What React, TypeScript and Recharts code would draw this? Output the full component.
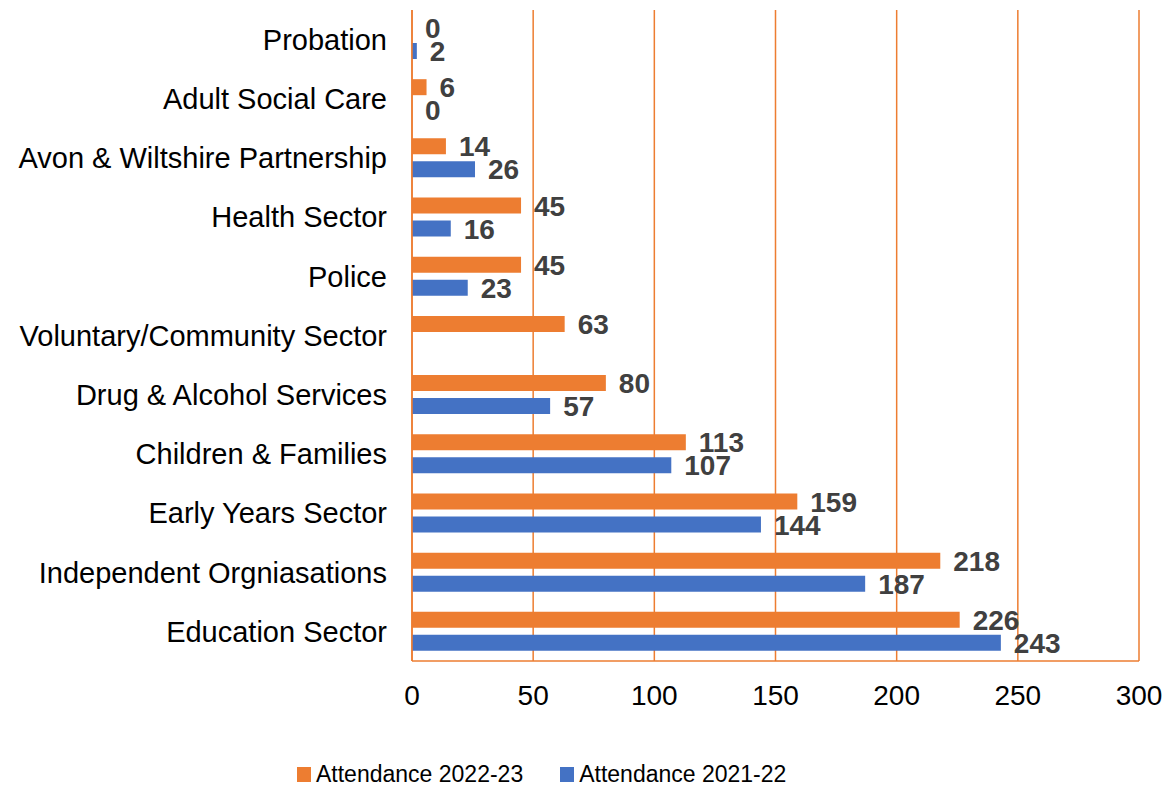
import React from "react";
import { BarChart, Bar, XAxis, YAxis, CartesianGrid, Legend, LabelList } from "recharts";

const categories = [
  "Probation",
  "Adult Social Care",
  "Avon & Wiltshire Partnership",
  "Health Sector",
  "Police",
  "Voluntary/Community Sector",
  "Drug & Alcohol Services",
  "Children & Families",
  "Early Years Sector",
  "Independent Orgniasations",
  "Education Sector",
];
const attendance2223: (number | null)[] = [0, 6, 14, 45, 45, 63, 80, 113, 159, 218, 226];
const attendance2122: (number | null)[] = [2, 0, 26, 16, 23, null, 57, 107, 144, 187, 243];
const xTicks = [0, 50, 100, 150, 200, 250, 300];
const seriesNames = ["Attendance 2022-23", "Attendance 2021-22"];

const ORANGE = "#ED7D31";
const BLUE = "#4472C4";
const FONT = '"Liberation Sans", Arial, sans-serif';

const data = categories.map((name, i) => ({
  name,
  a2223: attendance2223[i],
  a2122: attendance2122[i],
}));

const renderLegend = () => {
  const colors = [ORANGE, BLUE];
  return (
    <div style={{ display: "flex", alignItems: "center", height: 30, fontFamily: FONT, fontSize: 23, color: "#000" }}>
      {seriesNames.map((n, i) => (
        <div key={i} style={{ display: "flex", alignItems: "center", marginRight: i === 0 ? 37 : 0 }}>
          <span style={{ display: "inline-block", width: 14, height: 15, background: colors[i], marginRight: 5 }} />
          <span>{n}</span>
        </div>
      ))}
    </div>
  );
};

const renderValueLabel = (props: any) => {
  const { x, y, width, height, value } = props;
  if (value === null || value === undefined) return null;
  const w = Number(width || 0);
  return (
    <text
      x={Number(x) + (w < 0.5 ? 0 : w) + 13}
      y={Number(y) + Number(height) / 2}
      dy="0.36em"
      fill="#404040"
      fontSize={28}
      fontWeight="bold"
      fontFamily={FONT}
      textAnchor="start"
    >
      {value}
    </text>
  );
};

export default function App() {
  return (
    <div style={{ position: "absolute", left: 0, top: 0, width: 1168, height: 788, background: "#fff" }}>
      <BarChart
        width={1168}
        height={788}
        data={data}
        layout="vertical"
        margin={{ top: 10, right: 29, left: 0, bottom: 37 }}
        barSize={16}
        barGap={7}
      >
        <CartesianGrid horizontal={false} vertical={true} stroke={ORANGE} strokeWidth={1.5} />
        <XAxis
          type="number"
          domain={[0, 300]}
          ticks={xTicks}
          interval={0}
          height={60}
          axisLine={{ stroke: ORANGE, strokeWidth: 1.5 }}
          tickLine={false}
          tickSize={0}
          tickMargin={24}
          tick={{ fill: "#000", fontSize: 28, fontFamily: FONT }}
        />
        <YAxis
          type="category"
          dataKey="name"
          width={412}
          interval={0}
          axisLine={{ stroke: ORANGE, strokeWidth: 1.5 }}
          tickLine={false}
          tickSize={0}
          tickMargin={25}
          tick={{ fill: "#000", fontSize: 29, fontFamily: FONT }}
        />
        <Legend
          verticalAlign="bottom"
          content={renderLegend}
          wrapperStyle={{ top: 759, left: 297, bottom: "auto", width: "auto" }}
        />
        <Bar dataKey="a2223" name={seriesNames[0]} fill={ORANGE} minPointSize={0.01} isAnimationActive={false}>
          <LabelList dataKey="a2223" content={renderValueLabel} />
        </Bar>
        <Bar dataKey="a2122" name={seriesNames[1]} fill={BLUE} minPointSize={0.01} isAnimationActive={false}>
          <LabelList dataKey="a2122" content={renderValueLabel} />
        </Bar>
      </BarChart>
    </div>
  );
}
